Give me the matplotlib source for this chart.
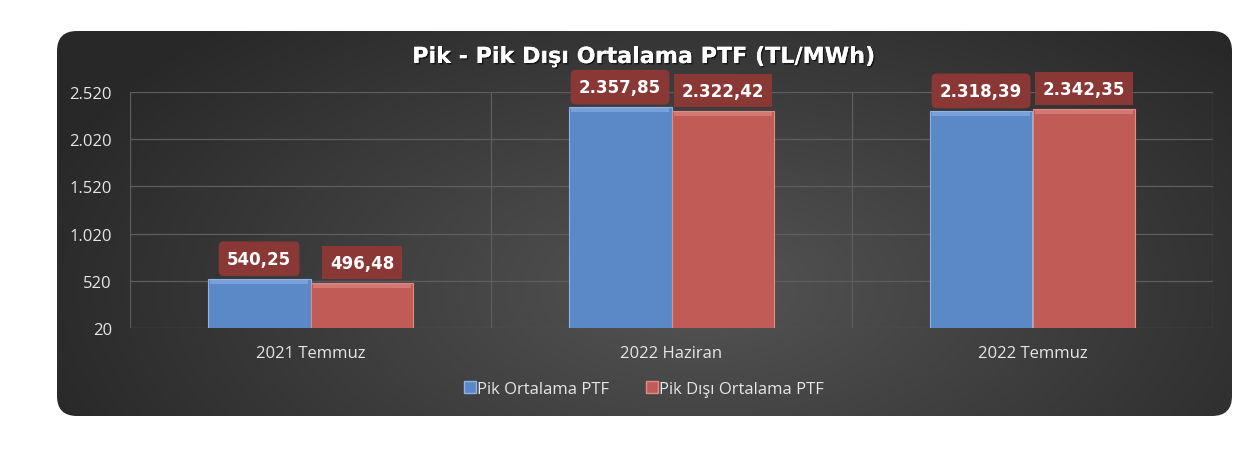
import numpy as np
import matplotlib.pyplot as plt
from matplotlib.patches import FancyBboxPatch, Patch
import matplotlib.patheffects as pe

categories = ['2021 Temmuz', '2022 Haziran', '2022 Temmuz']
pik = [540.25, 2357.85, 2318.39]
pik_disi = [496.48, 2322.42, 2342.35]
series_names = ['Pik Ortalama PTF', 'Pik Dışı Ortalama PTF']
yticks = [20, 520, 1020, 1520, 2020, 2520]

BLUE = '#5B88C6'
BLUE_TOP = '#8DB3E8'
RED = '#C05B56'
RED_TOP = '#E38C87'
LABEL_BG = '#8A3835'
TXT = '#E6E6E6'

W, H = 1256, 452
fig = plt.figure(figsize=(W / 100, H / 100), dpi=100, facecolor='white')

# background panel with radial gradient, rounded corners
bg = fig.add_axes([0, 0, 1, 1])
bg.set_xlim(0, W)
bg.set_ylim(H, 0)
bg.axis('off')
x0, x1, y0, y1 = 57, 1232, 32, 417
gx, gy = np.meshgrid(np.linspace(x0, x1, 400), np.linspace(y0, y1, 200))
d = np.sqrt(((gx - 700) / 650) ** 2 + ((gy - 290) / 340) ** 2)
val = np.clip(0.33 - 0.16 * d, 0.16, 0.35)
img = np.dstack([val, val, val])
panel = FancyBboxPatch((x0, y0), x1 - x0, y1 - y0,
                       boxstyle='round,pad=0,rounding_size=20',
                       facecolor='none', edgecolor='none')
bg.add_patch(panel)
im = bg.imshow(img, extent=(x0, x1, y1, y0), aspect='auto', interpolation='bilinear')
im.set_clip_path(panel)

# main chart axes
L, R, T, B = 130, 1213, 93, 329
ax = fig.add_axes([L / W, 1 - B / H, (R - L) / W, (B - T) / H])
ax.set_facecolor('none')
ax.set_xlim(-0.5, len(categories) - 0.5)
ax.set_ylim(yticks[0], yticks[-1])
for s in ax.spines.values():
    s.set_visible(False)

x = np.arange(len(categories))
bw = 0.285
px_unit = (yticks[-1] - yticks[0]) / (B - T)

for yt in yticks:
    ax.axhline(yt, color='#5e5e5e', lw=0.9, zorder=0)
for b in np.arange(-0.5, len(categories), 1.0):
    ax.axvline(b, color='#5e5e5e', lw=0.9, zorder=0)

for vals, off, col, top, rounded in [(pik, -bw / 2, BLUE, BLUE_TOP, True),
                                     (pik_disi, bw / 2, RED, RED_TOP, False)]:
    ax.bar(x + off, np.array(vals) - yticks[0], bottom=yticks[0], width=bw,
           color=col, edgecolor=top, linewidth=0.8, zorder=2)
    strip = 5 * px_unit
    ax.bar(x + off, strip, bottom=np.array(vals) - strip, width=bw * 0.96,
           color=top, linewidth=0, alpha=0.6, zorder=3)
    for xi, v in zip(x + off, vals):
        s = f'{v:,.2f}'.replace(',', 'X').replace('.', ',').replace('X', '.')
        ax.annotate(s, (xi, v), xytext=(0, 14.5), textcoords='offset points',
                    ha='center', va='center', color='white', fontsize=12,
                    fontweight='bold', family='DejaVu Sans', zorder=5,
                    bbox=dict(boxstyle='round,pad=0.5,rounding_size=0.3' if rounded
                              else 'square,pad=0.45',
                              facecolor=LABEL_BG, edgecolor='none'))

ax.set_yticks(yticks)
ax.set_yticklabels([f'{t:,}'.replace(',', '.') for t in yticks])
ax.set_xticks(x)
ax.set_xticklabels(categories)
ax.tick_params(axis='y', length=0, pad=13, labelsize=12, labelcolor=TXT)
ax.tick_params(axis='x', length=0, pad=12, labelsize=12, labelcolor=TXT)
for lab in ax.get_xticklabels() + ax.get_yticklabels():
    lab.set_family('Open Sans')

fig.text(644 / W, 1 - 58 / H, 'Pik - Pik Dışı Ortalama PTF (TL/MWh)',
         ha='center', va='center', color='white', fontsize=16,
         fontweight='bold', family='DejaVu Sans',
         path_effects=[pe.withSimplePatchShadow(offset=(1, -1), shadow_rgbFace='black', alpha=0.6),
                       pe.Normal()])

handles = [Patch(facecolor=BLUE, edgecolor=BLUE_TOP), Patch(facecolor=RED, edgecolor=RED_TOP)]
leg = fig.legend(handles, series_names, loc='center', bbox_to_anchor=(644 / W, 1 - 390 / H),
                 ncol=2, frameon=False, handlelength=0.7, handleheight=0.7,
                 handletextpad=0.1, columnspacing=2.2,
                 prop={'family': 'Open Sans', 'size': 12})
for t in leg.get_texts():
    t.set_color(TXT)

fig.savefig('out.png', dpi=100, facecolor='white')
